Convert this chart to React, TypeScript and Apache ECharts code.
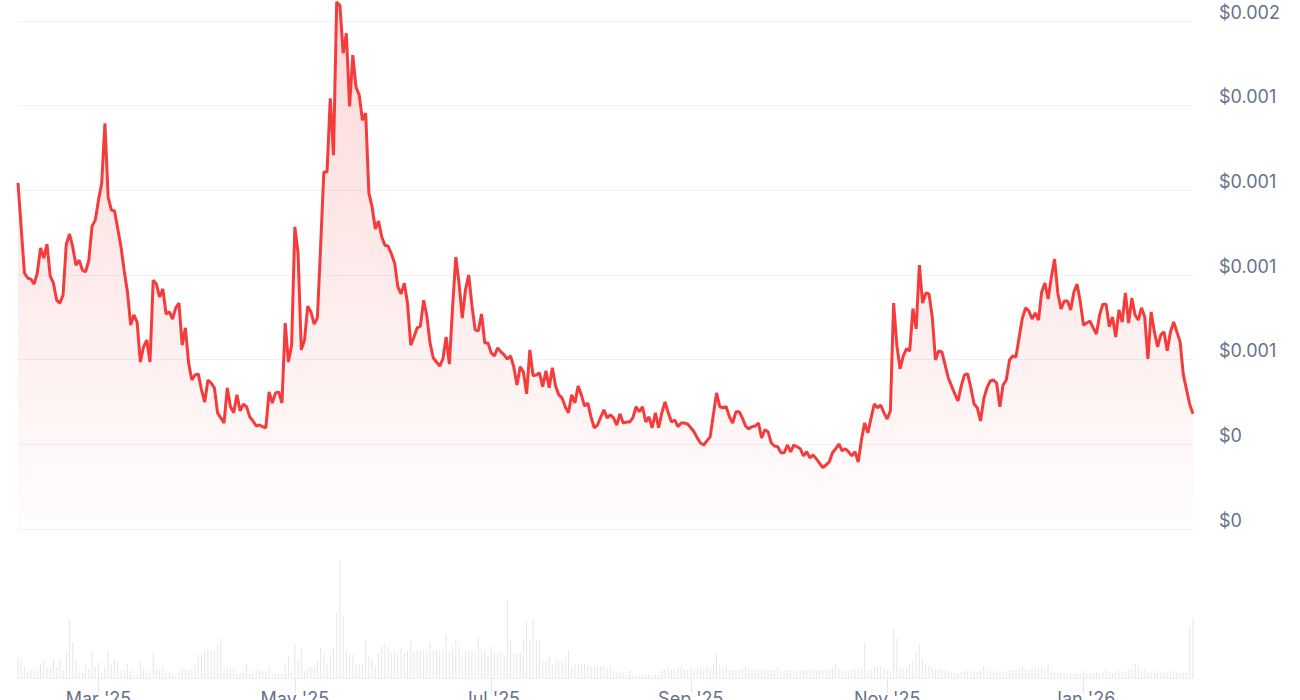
import { useEffect, useRef } from "react";
import * as echarts from "echarts";

// ---------- data ----------
const START_UTC = Date.UTC(2025, 1, 4); // 2025-02-04
const DAY_COUNT = 366; // through 2026-02-04
const MONTHS = ["Jan", "Feb", "Mar", "Apr", "May", "Jun", "Jul", "Aug", "Sep", "Oct", "Nov", "Dec"];

// [day index from 2025-02-04, price in USD]
const pricePoints: [number, number][] = [
  [0, 0.001022], [2, 0.000756], [3, 0.000741], [4, 0.000738], [5, 0.000723], [6, 0.000756], [7, 0.00083], [8, 0.0008], [9, 0.000841],
  [10, 0.000747], [11, 0.000726], [12, 0.000676], [13, 0.000667], [14, 0.000691], [15, 0.000841], [16, 0.000871], [17, 0.000833], [18, 0.000779], [19, 0.000794],
  [20, 0.000765], [21, 0.000759], [22, 0.000794], [23, 0.000894], [24, 0.000912], [25, 0.000971], [26, 0.001021], [27, 0.001198], [28, 0.00098], [29, 0.000942],
  [30, 0.000939], [32, 0.000833], [33, 0.000762], [34, 0.0007], [35, 0.000602], [36, 0.000632], [37, 0.000611], [38, 0.000493], [39, 0.000538],
  [40, 0.000558], [41, 0.000493], [42, 0.000735], [43, 0.000723], [44, 0.000685], [45, 0.000709], [46, 0.000635], [47, 0.000641], [48, 0.00062], [49, 0.000653],
  [50, 0.000667], [51, 0.000543], [52, 0.000594], [53, 0.00049], [54, 0.00044], [55, 0.000455], [56, 0.000458], [57, 0.000411], [58, 0.000375], [59, 0.00044],
  [60, 0.000431], [61, 0.000417], [62, 0.000343], [63, 0.000328], [64, 0.000313], [65, 0.000417], [66, 0.000361], [67, 0.000343], [68, 0.000396], [69, 0.000349],
  [70, 0.000369], [71, 0.000361], [72, 0.000331], [73, 0.000319], [74, 0.000304], [75, 0.000307], [76, 0.000302], [77, 0.000299], [78, 0.000405], [79, 0.000372],
  [80, 0.000402], [81, 0.000405], [82, 0.000372], [83, 0.000608], [84, 0.000493], [85, 0.000543], [86, 0.000892], [87, 0.000815], [88, 0.000529], [89, 0.000558],
  [90, 0.000658], [91, 0.000641], [92, 0.000605], [93, 0.000623], [94, 0.000833], [95, 0.001054], [96, 0.001054], [97, 0.001272], [98, 0.001104], [99, 0.001556],
  [100, 0.001546], [101, 0.001405], [102, 0.001464], [103, 0.001248], [104, 0.001399], [105, 0.001305], [106, 0.001281], [107, 0.001207], [108, 0.001228], [109, 0.000992],
  [110, 0.000951], [111, 0.000886], [112, 0.000909], [113, 0.000862], [114, 0.000838], [115, 0.000835], [116, 0.000812], [117, 0.000785], [118, 0.000715], [119, 0.000694],
  [120, 0.000726], [121, 0.000667], [122, 0.000543], [123, 0.000567], [124, 0.000594], [125, 0.000599], [126, 0.000676], [127, 0.000629], [128, 0.000549], [129, 0.000505],
  [130, 0.000493], [131, 0.000481], [132, 0.000502], [133, 0.000567], [134, 0.000487], [135, 0.000656], [136, 0.000803], [137, 0.000726], [138, 0.000623], [139, 0.000706],
  [140, 0.00075], [141, 0.000661], [142, 0.000588], [143, 0.000585], [144, 0.000635], [145, 0.000549], [146, 0.000549], [147, 0.00052], [148, 0.000511], [149, 0.000535],
  [150, 0.000523], [151, 0.000514], [152, 0.000502], [153, 0.000511], [154, 0.000479], [155, 0.000425], [156, 0.000479], [157, 0.000464], [158, 0.000399], [159, 0.000529],
  [160, 0.000452], [161, 0.000455], [162, 0.000461], [163, 0.00042], [164, 0.000467], [165, 0.000417], [166, 0.000476], [167, 0.000422], [168, 0.000396], [169, 0.000387],
  [170, 0.000361], [171, 0.000343], [172, 0.000396], [173, 0.000372], [174, 0.000422], [175, 0.000396], [176, 0.000363], [177, 0.000372], [178, 0.000331], [179, 0.000299],
  [180, 0.000307], [182, 0.000352], [183, 0.000328], [184, 0.000337], [185, 0.000328], [186, 0.000307], [187, 0.00034], [188, 0.000313], [189, 0.000316],
  [190, 0.000316], [191, 0.000328], [192, 0.000361], [193, 0.000346], [194, 0.000361], [195, 0.000316], [196, 0.000331], [197, 0.000299], [198, 0.000343], [199, 0.000299],
  [200, 0.000343], [201, 0.000375], [202, 0.000343], [203, 0.000316], [204, 0.000322], [205, 0.000302], [206, 0.000313], [207, 0.000313], [208, 0.00031], [209, 0.000299],
  [210, 0.000287], [211, 0.000269], [212, 0.000254], [213, 0.000248], [215, 0.000272], [216, 0.000337], [217, 0.000402], [218, 0.000361], [219, 0.000358],
  [220, 0.000361], [221, 0.000331], [222, 0.000313], [223, 0.000346], [224, 0.000346], [225, 0.000328], [226, 0.000304], [227, 0.000296], [228, 0.000302], [229, 0.000304],
  [230, 0.000313], [231, 0.000269], [232, 0.000293], [233, 0.000287], [234, 0.000254], [235, 0.000245], [236, 0.000243], [237, 0.000225], [238, 0.000225], [239, 0.000248],
  [240, 0.000228], [241, 0.000248], [242, 0.000243], [243, 0.000237], [244, 0.000216], [245, 0.000228], [246, 0.00021], [247, 0.000219], [248, 0.000207],
  [250, 0.000181], [251, 0.000189], [252, 0.000198], [253, 0.000225], [254, 0.000237], [255, 0.000251], [256, 0.000231], [257, 0.000237], [258, 0.000228], [259, 0.000216],
  [260, 0.000228], [261, 0.000198], [262, 0.000263], [263, 0.000313], [264, 0.000284], [265, 0.000328], [266, 0.000369], [267, 0.000358], [268, 0.000366], [269, 0.000343],
  [270, 0.000325], [271, 0.000349], [272, 0.000667], [273, 0.000543], [274, 0.000473], [275, 0.000511], [276, 0.000532], [277, 0.000526], [278, 0.000651], [279, 0.000591],
  [280, 0.000779], [281, 0.000667], [282, 0.000697], [283, 0.000694], [284, 0.000626], [285, 0.000499], [286, 0.000526], [287, 0.000523], [288, 0.000484], [289, 0.000446],
  [291, 0.000399], [292, 0.000378], [293, 0.000422], [294, 0.000455], [295, 0.000458], [296, 0.000417], [297, 0.000369], [298, 0.000358], [299, 0.000319],
  [300, 0.000384], [301, 0.000417], [302, 0.000437], [303, 0.00044], [304, 0.000431], [305, 0.000361], [306, 0.000425], [307, 0.00044], [308, 0.000499], [309, 0.000511],
  [310, 0.000508], [311, 0.000567], [312, 0.000623], [313, 0.000653], [314, 0.000644], [315, 0.00062], [316, 0.000638], [317, 0.000617], [318, 0.0007], [319, 0.000726],
  [320, 0.000679], [321, 0.000744], [322, 0.000797], [323, 0.000697], [324, 0.00065], [325, 0.000673], [326, 0.000673], [327, 0.000647], [328, 0.0007], [329, 0.000723],
  [330, 0.00067], [331, 0.000602], [332, 0.000608], [333, 0.000614], [334, 0.000594], [335, 0.000576], [336, 0.000632], [337, 0.000664], [338, 0.000664], [339, 0.000597],
  [340, 0.000626], [341, 0.000567], [342, 0.000647], [343, 0.000611], [344, 0.000697], [345, 0.000608], [346, 0.000682], [347, 0.000632], [348, 0.000617], [349, 0.000653],
  [350, 0.000626], [351, 0.000502], [352, 0.000641], [353, 0.000582], [354, 0.000538], [355, 0.000573], [356, 0.000582], [357, 0.000526], [358, 0.000582], [359, 0.000611],
  [360, 0.000582], [361, 0.000552], [362, 0.000455], [363, 0.000411], [364, 0.000367], [365, 0.00034],
];

// daily traded volume (relative units), one per day from 2025-02-04
const volumes: number[] = [
  21, 18, 11, 6, 9, 9, 7, 14, 18, 11,
  11, 18, 11, 19, 8, 25, 57, 36, 19, 7,
  5, 12, 9, 27, 11, 15, 5, 11, 28, 13,
  18, 16, 8, 9, 14, 8, 3, 4, 16, 8, 7,
  5, 24, 9, 8, 11, 5, 6, 5, 2, 5, 10,
  8, 7, 9, 14, 24, 24, 28, 30, 27, 28,
  33, 40, 9, 10, 10, 10, 4, 5, 7, 14,
  4, 7, 8, 7, 7, 7, 11, 3, 4, 5,
  4, 13, 22, 7, 34, 19, 30, 7, 10, 11,
  11, 17, 30, 24, 14, 23, 30, 65, 118, 62,
  27, 24, 23, 13, 14, 13, 38, 22, 19, 12,
  25, 32, 34, 31, 25, 27, 24, 30, 25, 27,
  37, 27, 27, 27, 27, 27, 36, 27, 27, 27,
  27, 44, 27, 32, 38, 32, 23, 27, 27, 27,
  25, 41, 27, 27, 21, 32, 25, 25, 25, 22,
  78, 37, 24, 25, 25, 38, 57, 38, 58, 38,
  38, 16, 17, 21, 14, 17, 17, 17, 19, 28,
  12, 14, 14, 14, 14, 12, 12, 12, 12, 12,
  12, 10, 13, 7, 7, 7, 5, 3, 8, 2,
  2, 2, 3, 3,
  3, 2, 4, 3,
  8, 9, 10, 8, 9, 10, 11, 9, 8, 10, 9, 10, 9,
  9, 12, 10, 14, 24, 12, 9, 13,
  8, 9, 8, 9, 10, 12, 10, 9,
  9, 8, 9, 9, 8, 7, 8, 12,
  7, 8, 7, 8, 8, 7, 7, 8, 7, 8, 8, 7, 7, 8, 8, 9, 10, 14,
  10, 8, 7, 7, 8, 10, 11, 9, 35,
  8, 9, 11, 12, 12, 11, 9, 7,
  49, 39, 10, 9, 10, 14, 17, 28, 34, 19, 14, 12, 11,
  9, 8, 9, 7, 8, 6, 5, 5, 6, 6, 7, 8, 6, 7, 8, 12,
  8, 7, 7, 6, 6, 7, 6, 7, 8, 8, 9, 11,
  8, 7, 9, 11, 11, 11, 8, 14,
  7, 6, 5, 6, 5, 4, 5, 4, 5, 4, 7,
  5, 5, 5, 6, 5, 6, 9,
  6, 5, 6, 7, 7, 6, 8, 9, 14, 11,
  7, 8, 6, 6, 7, 5, 6, 6, 6,
  6, 7, 6, 5, 5, 5, 52, 60,
];

// price axis ticks (USD)
const PRICE_MIN = 0;
const PRICE_MAX = 0.0015;
const PRICE_STEP = 0.00025;

// ---------- derived ----------
const dates: string[] = [];
for (let i = 0; i < DAY_COUNT; i++) {
  dates.push(new Date(START_UTC + i * 86400000).toISOString().slice(0, 10));
}
const dailyPrice: (number | null)[] = dates.map(() => null);
pricePoints.forEach(([d, p]) => {
  dailyPrice[d] = p;
});
const dailyVolume: number[] = dates.map((_, i) => (i < volumes.length ? volumes[i] : 0));

const isLabelDay = (i: number) => {
  const d = new Date(dates[i] + "T00:00:00Z");
  return d.getUTCDate() === 1 && d.getUTCMonth() % 2 === 0;
};
const monthLabel = (v: string) => {
  const d = new Date(v + "T00:00:00Z");
  return `${MONTHS[d.getUTCMonth()]} '${String(d.getUTCFullYear()).slice(2)}`;
};
const priceLabel = (v: number) => {
  const r = Math.round(v * 1000);
  return r === 0 ? "$0" : "$" + (r / 1000).toFixed(3);
};

const LABEL_COLOR = "#66728a";
const FONT = "Inter, 'Noto Sans', sans-serif";

export default function App() {
  const ref = useRef<HTMLDivElement>(null);

  useEffect(() => {
    if (!ref.current) return;
    const chart = echarts.init(ref.current, undefined, { renderer: "svg" });
    chart.setOption({
      animation: false,
      grid: [
        { left: 18, right: 107, top: 21, height: 508, containLabel: false, outerBoundsMode: "none" },
        { left: 18, right: 107, top: 540, height: 138, containLabel: false, outerBoundsMode: "none" },
      ],
      xAxis: [
        { type: "category", gridIndex: 0, data: dates, boundaryGap: false, show: false },
        {
          type: "category",
          gridIndex: 1,
          data: dates,
          boundaryGap: false,
          axisLine: { show: true, lineStyle: { color: "#eef0f3", width: 1 } },
          axisTick: { show: true, interval: (i: number) => isLabelDay(i), length: 15, lineStyle: { color: "#e2e5ea" } },
          axisLabel: {
            interval: (i: number) => isLabelDay(i),
            formatter: (v: string) => monthLabel(v),
            color: LABEL_COLOR,
            fontSize: 18,
            fontFamily: FONT,
            margin: 11,
          },
          splitLine: { show: false },
        },
      ],
      yAxis: [
        {
          type: "value",
          gridIndex: 0,
          position: "right",
          min: PRICE_MIN,
          max: PRICE_MAX,
          interval: PRICE_STEP,
          axisLine: { show: false },
          axisTick: { show: false },
          splitLine: { show: true, lineStyle: { color: "#eff1f4", width: 1 } },
          axisLabel: {
            formatter: (v: number) => priceLabel(v),
            color: LABEL_COLOR,
            fontSize: 18,
            fontFamily: FONT,
            margin: 26,
            verticalAlign: "bottom",
          },
        },
        { type: "value", gridIndex: 1, min: 0, max: 138, show: false },
      ],
      series: [
        {
          type: "bar",
          xAxisIndex: 1,
          yAxisIndex: 1,
          data: dailyVolume,
          barWidth: 1,
          itemStyle: { color: "#e3e6eb" },
          silent: true,
        },
        {
          type: "line",
          xAxisIndex: 0,
          yAxisIndex: 0,
          data: dailyPrice,
          connectNulls: true,
          showSymbol: false,
          clip: false,
          lineStyle: { color: "#f43c3c", width: 3 },
          areaStyle: {
            color: new echarts.graphic.LinearGradient(0, 0, 0, 1, [
              { offset: 0, color: "rgba(244,60,60,0.28)" },
              { offset: 1, color: "rgba(244,60,60,0.02)" },
            ]),
          },
        },
      ],
    });
    return () => chart.dispose();
  }, []);

  return (
    <div
      ref={ref}
      style={{ position: "fixed", left: 0, top: 0, width: 1300, height: 700, background: "#ffffff" }}
    />
  );
}
